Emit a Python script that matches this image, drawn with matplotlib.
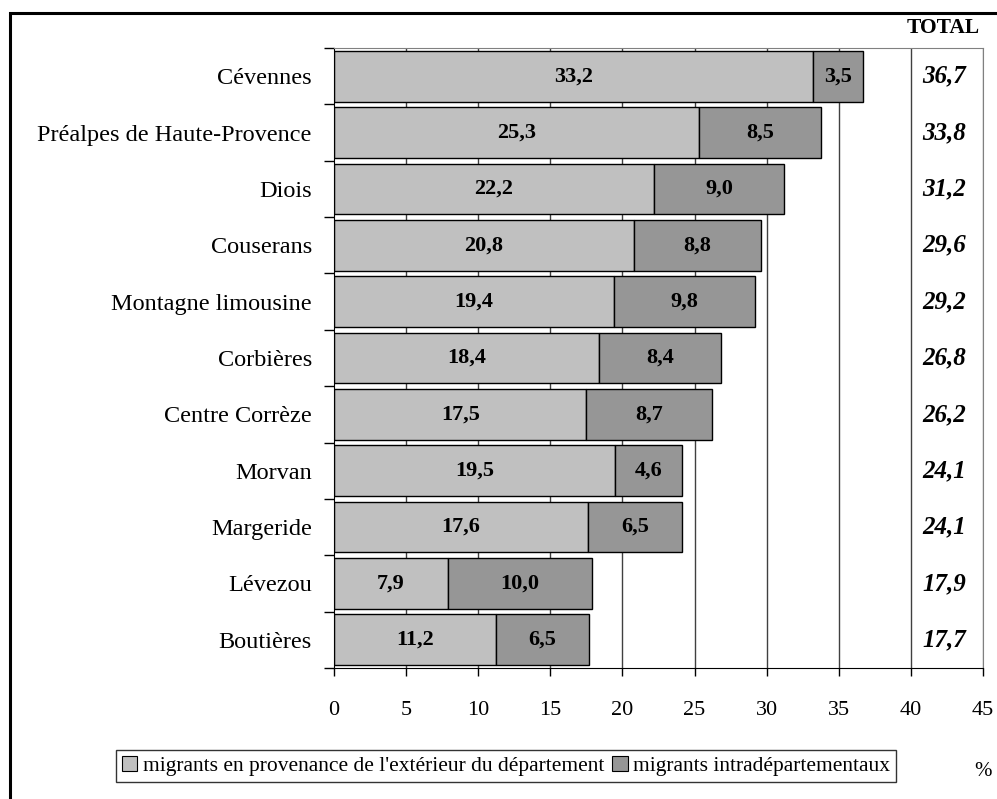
import matplotlib
matplotlib.use("Agg")
import numpy as np
import matplotlib.pyplot as plt
from matplotlib.patches import Patch, Rectangle

# data (top to bottom)
categories = ["Cévennes", "Préalpes de Haute-Provence", "Diois", "Couserans",
              "Montagne limousine", "Corbières", "Centre Corrèze", "Morvan",
              "Margeride", "Lévezou", "Boutières"]
exterieur = [33.2, 25.3, 22.2, 20.8, 19.4, 18.4, 17.5, 19.5, 17.6, 7.9, 11.2]
intra = [3.5, 8.5, 9.0, 8.8, 9.8, 8.4, 8.7, 4.6, 6.5, 10.0, 6.5]
totals = [36.7, 33.8, 31.2, 29.6, 29.2, 26.8, 26.2, 24.1, 24.1, 17.9, 17.7]
x_ticks = [0, 5, 10, 15, 20, 25, 30, 35, 40, 45]
legend_labels = ["migrants en provenance de l'extérieur du département",
                 "migrants intradépartementaux"]

plt.rcParams['font.family'] = ['Liberation Serif', 'DejaVu Serif']

LIGHT = "#c0c0c0"
DARK = "#969696"


def fr(v):
    return f"{v:.1f}".replace(".", ",")


W, H = 997, 799
fig = plt.figure(figsize=(W / 100, H / 100), dpi=100)

# outer frame of the figure (open on right/bottom as in the reference)
fig.patches.append(Rectangle((10 / W, -0.05), 1.2, 1 - 13 / H + 0.05,
                             transform=fig.transFigure, fill=False,
                             edgecolor="black", linewidth=2.2, zorder=0))

left, right, top, bottom = 334 / W, 983 / W, 1 - 48 / H, 1 - 668 / H
ax = fig.add_axes([left, bottom, right - left, top - bottom])

n = len(categories)
y = np.arange(n)[::-1]

for xv in x_ticks[1:]:
    ax.axvline(xv, color="#404040" if xv < 45 else "#808080",
               linewidth=1.0, zorder=0)

ax.barh(y, exterieur, height=0.9, color=LIGHT, edgecolor="black",
        linewidth=1.0, zorder=2)
ax.barh(y, intra, left=exterieur, height=0.9, color=DARK, edgecolor="black",
        linewidth=1.0, zorder=2)

for yi, e, i, t in zip(y, exterieur, intra, totals):
    ax.text(e / 2, yi, fr(e), ha="center", va="center", fontsize=16,
            fontweight="bold", zorder=3)
    ax.text(e + i / 2, yi, fr(i), ha="center", va="center", fontsize=16,
            fontweight="bold", zorder=3)
    ax.text(42.3, yi, fr(t), ha="center", va="center", fontsize=18,
            fontweight="bold", style="italic", zorder=3)

ax.set_xlim(0, 45)
ax.set_ylim(-0.5, n - 0.5)
ax.set_xticks(x_ticks)
ax.set_xticklabels([str(v) for v in x_ticks], fontsize=16)
ax.tick_params(axis="x", length=6, width=1, pad=18, direction="out")

ax.set_yticks(y)
ax.set_yticklabels(categories, fontsize=17.5)
ax.tick_params(axis="y", which="major", length=0, pad=16)
ax.set_yticks(np.arange(n + 1) - 0.5, minor=True)
ax.tick_params(axis="y", which="minor", length=7, width=1, direction="out")

for side in ["top", "right"]:
    ax.spines[side].set_color("#808080")
ax.spines["left"].set_color("black")
ax.spines["bottom"].set_color("black")

fig.text(943 / W, 1 - 28 / H, "TOTAL", ha="center", va="center",
         fontsize=15.5, fontweight="bold")
fig.text(983 / W, 1 - 772 / H, "%", ha="center", va="center", fontsize=15)

handles = [Patch(facecolor=LIGHT, edgecolor="black", linewidth=0.8),
           Patch(facecolor=DARK, edgecolor="black", linewidth=0.8)]
leg = fig.legend(handles, legend_labels, loc="center",
                 bbox_to_anchor=(506 / W, 1 - 766 / H), ncol=2,
                 fontsize=15.5, frameon=True, fancybox=False,
                 handlelength=0.7, handleheight=0.7, handletextpad=0.25,
                 columnspacing=0.4, borderpad=0.3, borderaxespad=0)
leg.get_frame().set_edgecolor("black")
leg.get_frame().set_linewidth(1.0)

fig.savefig("out.png", dpi=100)
